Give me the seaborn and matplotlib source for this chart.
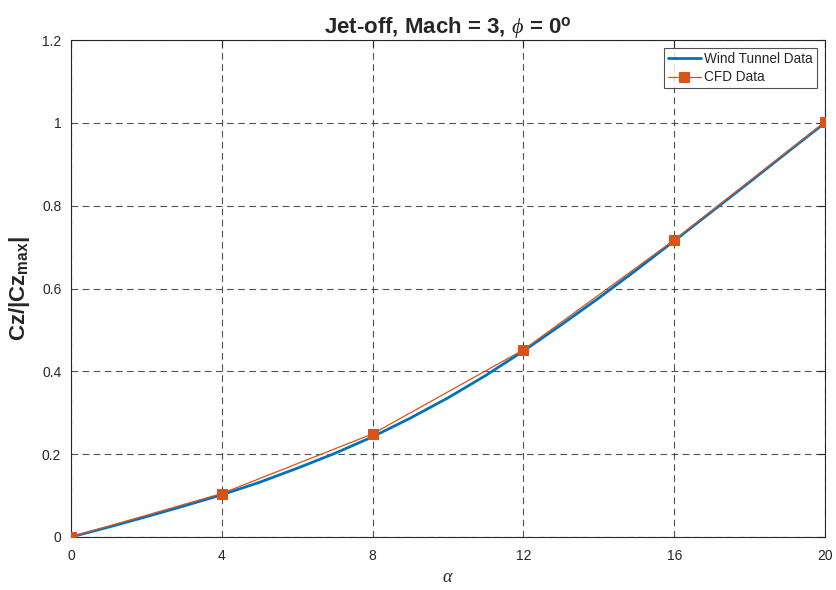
import numpy as np
import pandas as pd
import matplotlib
matplotlib.use("Agg")
import matplotlib.pyplot as plt
import seaborn as sns

# Wind tunnel curve (1 deg steps)
wt_alpha = [0, 1, 2, 3, 4, 5, 6, 7, 8, 9, 10, 11, 12, 13, 14, 15, 16, 17, 18, 19, 20]
wt_cz = [0.0, 0.024, 0.049, 0.075, 0.102, 0.132, 0.166, 0.202, 0.242, 0.287, 0.336,
         0.390, 0.449, 0.512, 0.577, 0.645, 0.715, 0.786, 0.857, 0.929, 1.0]

# CFD points
cfd_alpha = [0, 4, 8, 12, 16, 20]
cfd_cz = [0.0, 0.105, 0.249, 0.452, 0.717, 1.002]

x_ticks = [0, 4, 8, 12, 16, 20]
y_ticks = [0, 0.2, 0.4, 0.6, 0.8, 1.0, 1.2]
y_tick_labels = ['0', '0.2', '0.4', '0.6', '0.8', '1', '1.2']

sns.set_style("white")
plt.rcParams['font.family'] = ['Liberation Sans', 'DejaVu Sans']
plt.rcParams['mathtext.fontset'] = 'custom'
plt.rcParams['mathtext.rm'] = 'Liberation Sans'
plt.rcParams['mathtext.bf'] = 'Liberation Sans:bold'
plt.rcParams['mathtext.it'] = 'Liberation Serif:italic'

wt = pd.DataFrame({'alpha': wt_alpha, 'cz': wt_cz})
cfd = pd.DataFrame({'alpha': cfd_alpha, 'cz': cfd_cz})

fig = plt.figure(figsize=(8.37, 5.9), dpi=100)
ax = fig.add_axes([71 / 837, 1 - 537 / 590, (825 - 71) / 837, (537 - 40) / 590])

sns.lineplot(data=wt, x='alpha', y='cz', ax=ax, color='#0072BD', linewidth=2,
             label='Wind Tunnel Data', zorder=3)
sns.lineplot(data=cfd, x='alpha', y='cz', ax=ax, color='#D95319', linewidth=0.9,
             marker='s', markersize=7, markeredgecolor='#D95319',
             label='CFD Data', zorder=4)

ax.set_xlim(0, 20)
ax.set_ylim(0, 1.2)
ax.set_xticks(x_ticks)
ax.set_yticks(y_ticks)
ax.set_yticklabels(y_tick_labels)
ax.tick_params(axis='x', direction='in', length=5, labelsize=10, colors='#262626',
               top=True, pad=9)
ax.tick_params(axis='y', direction='in', length=5, labelsize=10, colors='#262626',
               right=True, pad=7)
ax.grid(True, linestyle=(0, (6, 4)), color='#333333', linewidth=0.8, alpha=0.85)
for s in ax.spines.values():
    s.set_color('#262626')
    s.set_linewidth(0.8)

ax.set_title(r'Jet-off, Mach = 3, $\phi$ = 0$^{\mathbf{o}}$', fontsize=16,
             fontweight='bold', pad=5)
ax.set_xlabel(r'$\alpha$', fontsize=13, labelpad=4)
ax.set_ylabel(r'Cz/|Cz$_{\mathbf{max}}$|', fontsize=16, fontweight='bold', labelpad=7)

leg = ax.legend(loc='upper right', fontsize=9.8, frameon=True, fancybox=False,
                borderaxespad=0.6, handlelength=2.4, handletextpad=0.25,
                borderpad=0.3, labelspacing=0.3)
leg.get_frame().set_edgecolor('#262626')
leg.get_frame().set_linewidth(0.8)

fig.savefig('out.png', dpi=100)
